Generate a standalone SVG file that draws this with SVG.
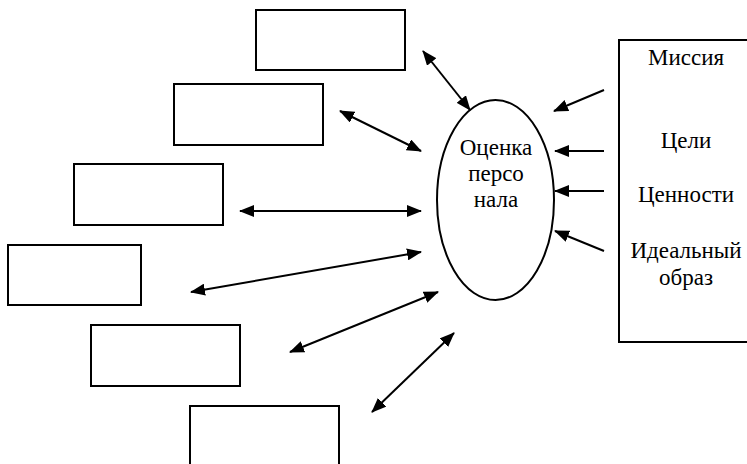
<svg xmlns="http://www.w3.org/2000/svg" width="747" height="464" viewBox="0 0 747 464">
<defs>
<style>
.box{fill:#fff;stroke:#000;stroke-width:2}
.con{stroke:#000;stroke-width:2;fill:none}
.t{font-family:"Liberation Serif","Times New Roman",serif;font-size:23px;fill:#000;text-anchor:middle}
</style>
<marker id="ah" viewBox="0 0 15 12" refX="14" refY="6" markerWidth="15" markerHeight="12" markerUnits="userSpaceOnUse" orient="auto-start-reverse">
<path d="M0,0 L15,6 L0,12 Z" fill="#000"/>
</marker>
</defs>
<rect width="747" height="464" fill="#fff"/>
<g id="box1"><rect class="box" x="256" y="10" width="149" height="60"/></g>
<g id="box2"><rect class="box" x="174" y="84" width="149" height="61"/></g>
<g id="box3"><rect class="box" x="74" y="164" width="149" height="61"/></g>
<g id="box4"><rect class="box" x="8" y="245" width="133" height="60"/></g>
<g id="box5"><rect class="box" x="91" y="325" width="149" height="61"/></g>
<g id="box6"><rect class="box" x="190" y="406" width="149" height="62"/></g>
<g id="center">
<ellipse class="box" cx="495.5" cy="200" rx="58.5" ry="100"/>
<text class="t" x="496" y="155">Оценка</text>
<text class="t" x="496" y="181">персо</text>
<text class="t" x="496" y="207">нала</text>
</g>
<g id="sources">
<rect class="box" x="619" y="40" width="140" height="302"/>
<text class="t" x="686" y="65">Миссия</text>
<text class="t" x="686" y="148">Цели</text>
<text class="t" x="686" y="202">Ценности</text>
<text class="t" x="686" y="258">Идеальный</text>
<text class="t" x="686" y="285">образ</text>
</g>
<g id="connectors">
<line class="con" x1="423" y1="51" x2="470" y2="110" marker-start="url(#ah)" marker-end="url(#ah)"/>
<line class="con" x1="340" y1="111" x2="421" y2="151" marker-start="url(#ah)" marker-end="url(#ah)"/>
<line class="con" x1="240" y1="211" x2="421" y2="211" marker-start="url(#ah)" marker-end="url(#ah)"/>
<line class="con" x1="191" y1="292" x2="421" y2="252" marker-start="url(#ah)" marker-end="url(#ah)"/>
<line class="con" x1="290" y1="352" x2="438" y2="292" marker-start="url(#ah)" marker-end="url(#ah)"/>
<line class="con" x1="372" y1="412" x2="454" y2="333" marker-start="url(#ah)" marker-end="url(#ah)"/>
<line class="con" x1="604" y1="90" x2="554" y2="111" marker-end="url(#ah)"/>
<line class="con" x1="604" y1="151" x2="555" y2="151" marker-end="url(#ah)"/>
<line class="con" x1="604" y1="191" x2="555" y2="191" marker-end="url(#ah)"/>
<line class="con" x1="604" y1="251" x2="555" y2="231" marker-end="url(#ah)"/>
</g>
</svg>
